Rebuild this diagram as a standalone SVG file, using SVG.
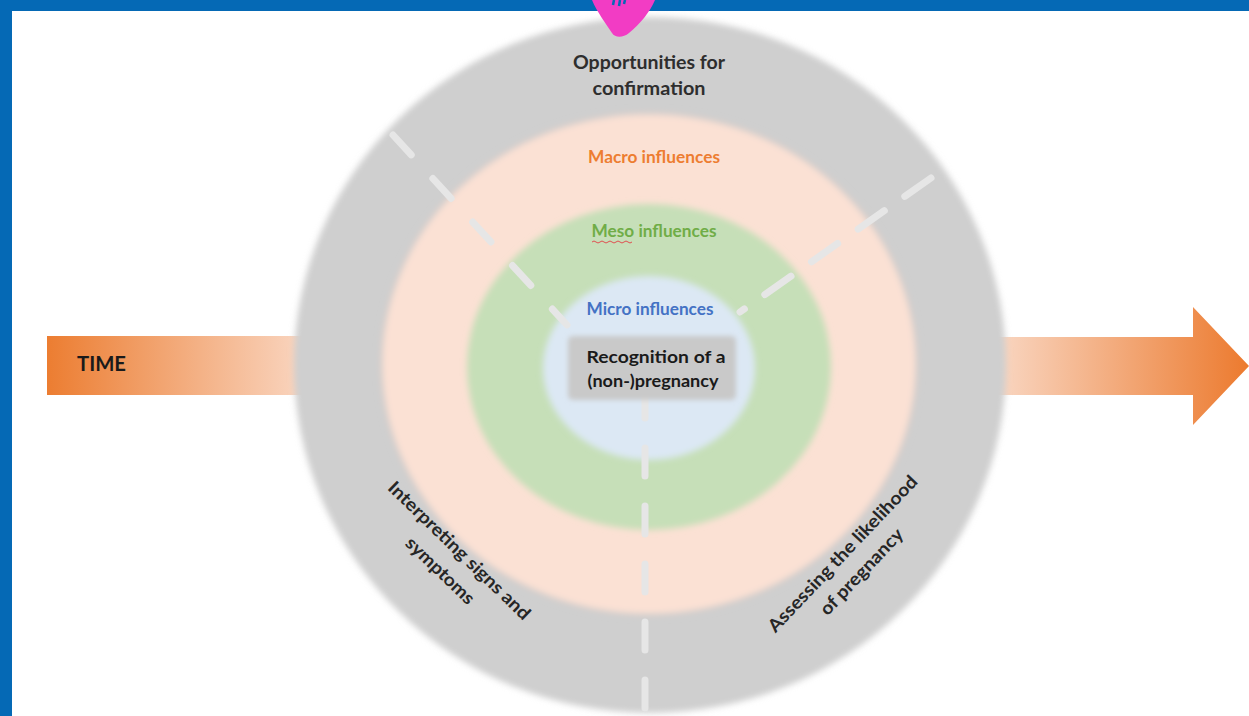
<svg xmlns="http://www.w3.org/2000/svg" width="1249" height="716" viewBox="0 0 1249 716">
<defs>
<style>
.t{font-family:Lato,"Open Sans","Liberation Sans",sans-serif;font-weight:bold;text-anchor:middle}
.dash{stroke:#E6E6E6;stroke-width:7;stroke-linecap:round;fill:none}
</style>
<filter id="soft" x="-10%" y="-10%" width="120%" height="120%"><feGaussianBlur stdDeviation="3"/></filter>
<filter id="soft2" x="-20%" y="-20%" width="140%" height="140%"><feGaussianBlur stdDeviation="2.5"/></filter>
<linearGradient id="gl" x1="0" y1="0" x2="1" y2="0">
<stop offset="0" stop-color="#EC7D31"/><stop offset="1" stop-color="#FAD9C6"/>
</linearGradient>
<linearGradient id="gr" x1="995" y1="0" x2="1249" y2="0" gradientUnits="userSpaceOnUse">
<stop offset="0" stop-color="#F9D7C3"/><stop offset="1" stop-color="#EC7A2E"/>
</linearGradient>
</defs>
<rect width="1249" height="716" fill="#FFFFFF"/>
<g id="time-left">
<rect x="47" y="336" width="268" height="59" fill="url(#gl)"/>
<text class="t" x="77" y="371" font-size="20" fill="#1A1A1A" style="text-anchor:start" textLength="49" lengthAdjust="spacingAndGlyphs">TIME</text>
</g>
<g id="time-right">
<path d="M995,337 L1193,337 L1193,307 L1249,366 L1193,425 L1193,395 L995,395 Z" fill="url(#gr)"/>
</g>
<g id="ring-opportunities">
<ellipse cx="650" cy="365" rx="356" ry="348" fill="#CFCFCF" filter="url(#soft)"/>
</g>
<g id="ring-macro">
<ellipse cx="649" cy="364" rx="268" ry="251" fill="#FBE1D4" stroke="#D2CCCA" stroke-width="3" filter="url(#soft)"/>
</g>
<g id="ring-meso">
<ellipse cx="649" cy="367" rx="182" ry="163" fill="#C6DFB8" filter="url(#soft)"/>
</g>
<g id="ring-micro">
<ellipse cx="649" cy="368" rx="106" ry="92" fill="#DCE8F4" filter="url(#soft)"/>
</g>
<g id="connectors">
<path class="dash" d="M393,135 L567,325" stroke-dasharray="27 32"/>
<path class="dash" d="M931,178 L740,312" stroke-dasharray="32 25"/>
<path class="dash" d="M645,390 L645,710" stroke-dasharray="28 30"/>
</g>
<g id="center-box">
<rect x="568" y="336" width="168" height="64" rx="5" fill="#C9C9C9" filter="url(#soft2)"/>
<text class="t" x="656" y="363" font-size="17" fill="#1A1A1A" textLength="139" lengthAdjust="spacingAndGlyphs">Recognition of a</text>
<text class="t" x="653" y="387" font-size="17" fill="#1A1A1A" textLength="131" lengthAdjust="spacingAndGlyphs">(non-)pregnancy</text>
</g>
<g id="labels">
<text class="t" x="649" y="69" font-size="18.5" fill="#2E2E2E" textLength="152" lengthAdjust="spacingAndGlyphs">Opportunities for</text>
<text class="t" x="649" y="95" font-size="18.5" fill="#2E2E2E" textLength="113" lengthAdjust="spacingAndGlyphs">confirmation</text>
<text class="t" x="654" y="163" font-size="16.5" fill="#ED7D31" textLength="132" lengthAdjust="spacingAndGlyphs">Macro influences</text>
<text class="t" x="654" y="237" font-size="16.5" fill="#70AD47" textLength="125" lengthAdjust="spacingAndGlyphs">Meso influences</text>
<path d="M592,242 q2,-2 4,0 t4,0 t4,0 t4,0 t4,0 t4,0 t4,0 t4,0 t4,0 t4,0" stroke="#E05050" stroke-width="1" fill="none"/>
<text class="t" x="650" y="315" font-size="16.5" fill="#4472C4" textLength="127" lengthAdjust="spacingAndGlyphs">Micro influences</text>
<text class="t" font-size="18" fill="#262626" transform="translate(455,555) rotate(44)" textLength="190" lengthAdjust="spacingAndGlyphs">Interpreting signs and</text>
<text class="t" font-size="18" fill="#262626" transform="translate(436,575) rotate(44)" textLength="88" lengthAdjust="spacingAndGlyphs">symptoms</text>
<text class="t" font-size="18" fill="#262626" transform="translate(847,558) rotate(-46.5)" textLength="208" lengthAdjust="spacingAndGlyphs">Assessing the likelihood</text>
<text class="t" font-size="18" fill="#262626" transform="translate(866,576) rotate(-46.5)" textLength="112" lengthAdjust="spacingAndGlyphs">of pregnancy</text>
</g>
<g id="frame">
<rect x="0" y="0" width="1249" height="11" fill="#0569B5"/>
<rect x="0" y="0" width="12" height="716" fill="#0569B5"/>
</g>
<g id="marker-blob">
<path d="M592,0 L655,0 C650,12 640,24 629,33 C623,38 615,38 612,33 C605,22 597,12 592,0 Z" fill="#F23CC4"/>
<path d="M614,0 L613,5 M620,0 L619,6 M625,0 L624,4" stroke="#0569B5" stroke-width="2.5" fill="none"/>
</g>
</svg>
